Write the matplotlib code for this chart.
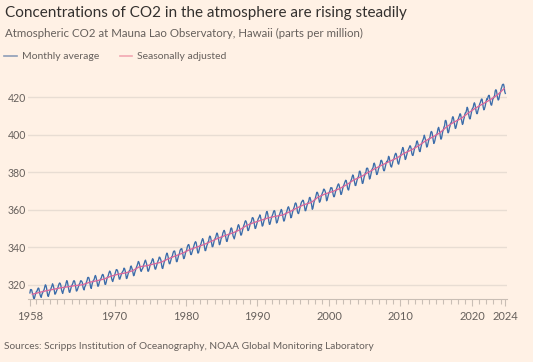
import numpy as np
import matplotlib
matplotlib.use("Agg")
import matplotlib.pyplot as plt
from matplotlib.ticker import FixedLocator
from matplotlib.lines import Line2D

# ---------------- data (ppm) ----------------
title = "Concentrations of CO2 in the atmosphere are rising steadily"
subtitle = "Atmospheric CO2 at Mauna Lao Observatory, Hawaii (parts per million)"
source = "Sources: Scripps Institution of Oceanography, NOAA Global Monitoring Laboratory"
series_names = ["Monthly average", "Seasonally adjusted"]

start_year = 1958
start_month = 3

co2_1950s = [
    315.70, 317.45, 317.51, 317.24, 315.86, 314.93, 313.20, 312.66, 313.33, 314.67,
    315.58, 316.49, 316.65, 317.72, 318.29, 318.15, 316.54, 314.80, 313.84, 313.33, 314.81, 315.58,
]
co2_1960s = [
    316.43, 316.98, 317.58, 319.03, 320.04, 319.59, 318.18, 315.90, 314.17, 313.83, 315.00, 316.19,
    316.89, 317.70, 318.54, 319.48, 320.58, 319.77, 318.57, 316.79, 314.99, 315.31, 316.10, 317.01,
    317.94, 318.55, 319.68, 320.57, 321.02, 320.62, 319.61, 317.40, 316.25, 315.42, 316.69, 317.70,
    318.74, 319.07, 319.86, 321.38, 322.25, 321.48, 319.74, 317.77, 316.21, 315.99, 317.07, 318.35,
    319.57, 320.01, 320.74, 321.84, 322.26, 321.89, 320.44, 318.69, 316.70, 316.87, 317.68, 318.71,
    319.44, 320.44, 320.89, 322.14, 322.17, 321.87, 321.21, 318.87, 317.81, 317.30, 318.87, 319.42,
    320.62, 321.59, 322.39, 323.87, 324.01, 323.75, 322.39, 320.37, 318.64, 318.10, 319.79, 321.08,
    322.07, 322.50, 323.04, 324.42, 325.00, 324.09, 322.54, 320.92, 319.25, 319.39, 320.73, 321.96,
    322.57, 323.15, 323.89, 325.02, 325.57, 325.36, 324.14, 322.11, 320.33, 320.25, 321.32, 322.89,
    324.00, 324.42, 325.63, 326.66, 327.38, 326.71, 325.88, 323.66, 322.38, 321.78, 322.85, 324.12,
]
co2_1970s = [
    325.06, 325.98, 326.93, 328.13, 328.08, 327.67, 326.34, 324.69, 323.10, 323.06, 324.01, 325.13,
    326.17, 326.68, 327.17, 327.79, 328.93, 328.57, 327.36, 325.43, 323.36, 323.56, 324.80, 326.01,
    326.77, 327.63, 327.75, 329.72, 330.07, 329.09, 328.04, 326.32, 324.84, 325.20, 326.50, 327.55,
    328.55, 329.56, 330.30, 331.50, 332.48, 332.07, 330.87, 329.31, 327.51, 327.18, 328.16, 328.64,
    329.35, 330.71, 331.48, 332.65, 333.18, 332.20, 331.07, 329.15, 327.33, 327.28, 328.31, 329.58,
    330.73, 331.46, 331.94, 333.11, 333.95, 333.42, 331.97, 329.95, 328.50, 328.36, 329.38, 330.62,
    331.56, 332.74, 333.36, 334.74, 334.72, 333.98, 333.08, 330.68, 328.96, 328.72, 330.16, 331.62,
    332.68, 333.17, 334.96, 336.14, 336.93, 336.17, 334.88, 332.56, 331.29, 331.27, 332.41, 333.60,
    334.95, 335.25, 336.66, 337.69, 338.03, 338.01, 336.41, 334.41, 332.37, 332.41, 333.75, 334.90,
    336.14, 336.69, 338.27, 338.95, 339.21, 339.26, 337.54, 335.75, 333.98, 334.19, 335.31, 336.81,
]
co2_1980s = [
    337.90, 338.34, 340.01, 340.93, 341.48, 341.33, 339.40, 337.70, 336.19, 336.15, 337.27, 338.32,
    339.29, 340.55, 341.61, 342.53, 343.03, 342.54, 340.78, 338.44, 336.95, 337.08, 338.58, 339.88,
    340.96, 341.73, 342.81, 343.97, 344.63, 343.79, 342.32, 340.09, 338.28, 338.29, 339.60, 340.90,
    341.68, 342.90, 343.33, 345.25, 346.03, 345.63, 344.19, 342.27, 340.35, 340.38, 341.59, 343.05,
    344.10, 344.79, 345.52, 346.84, 347.63, 346.98, 345.53, 343.55, 341.40, 341.67, 343.10, 344.70,
    345.21, 346.16, 347.74, 348.34, 349.06, 348.38, 346.72, 345.02, 343.27, 343.13, 344.49, 345.88,
    346.56, 347.28, 348.01, 349.77, 350.38, 349.93, 348.16, 346.08, 345.22, 344.51, 345.93, 347.22,
    348.52, 348.73, 349.73, 351.31, 352.09, 351.53, 350.11, 348.08, 346.52, 346.59, 347.96, 349.16,
    350.39, 351.64, 352.40, 353.69, 354.21, 353.72, 352.69, 350.40, 348.92, 349.13, 350.20, 351.41,
    352.91, 353.27, 353.96, 355.64, 355.86, 355.37, 353.99, 351.81, 350.05, 350.25, 351.49, 352.85,
]
co2_1990s = [
    353.80, 355.04, 355.73, 356.32, 357.32, 356.34, 354.84, 353.01, 351.31, 351.62, 353.07, 354.33,
    354.84, 355.73, 357.23, 358.66, 359.13, 358.13, 356.19, 353.85, 352.25, 352.35, 353.81, 355.12,
    356.25, 357.11, 357.86, 359.09, 359.59, 359.33, 357.01, 354.94, 352.96, 353.32, 354.32, 355.57,
    357.00, 357.31, 358.47, 359.27, 360.19, 359.52, 357.33, 355.64, 354.03, 354.12, 355.41, 356.91,
    358.24, 358.92, 359.99, 361.23, 361.65, 360.81, 359.38, 357.46, 355.73, 356.07, 357.53, 358.98,
    359.92, 360.86, 361.83, 363.30, 363.69, 363.19, 361.64, 359.12, 358.17, 357.99, 359.45, 360.68,
    362.07, 363.24, 364.17, 364.57, 365.13, 364.92, 363.55, 361.38, 359.54, 359.58, 360.89, 362.24,
    363.09, 364.03, 364.51, 366.35, 366.64, 365.59, 364.31, 362.25, 360.29, 360.82, 362.49, 364.38,
    365.26, 365.98, 367.24, 368.66, 369.42, 368.99, 367.82, 365.95, 364.02, 364.40, 365.52, 367.13,
    368.18, 369.07, 369.68, 370.99, 370.96, 370.30, 369.45, 366.90, 364.81, 365.37, 366.72, 368.10,
]
co2_2000s = [
    369.29, 369.54, 370.60, 371.82, 371.58, 371.70, 369.86, 368.13, 367.00, 367.03, 368.37, 369.67,
    370.59, 371.51, 372.43, 373.37, 373.85, 373.22, 371.50, 369.61, 368.18, 368.45, 369.76, 371.24,
    372.53, 373.20, 374.12, 375.02, 375.76, 375.52, 374.01, 371.85, 370.75, 370.55, 372.25, 373.79,
    374.88, 375.64, 376.45, 377.73, 378.60, 377.93, 376.28, 374.41, 372.98, 373.00, 374.35, 375.69,
    376.79, 377.36, 378.39, 380.50, 380.62, 379.55, 377.76, 375.83, 374.05, 374.22, 375.84, 377.44,
    378.34, 379.61, 380.08, 382.05, 382.24, 382.08, 380.67, 378.67, 376.42, 376.80, 378.31, 379.96,
    381.37, 382.02, 382.56, 384.37, 384.92, 384.03, 382.28, 380.48, 378.81, 379.06, 380.14, 381.66,
    382.58, 383.71, 384.34, 386.23, 386.41, 385.87, 384.45, 381.84, 380.86, 380.86, 382.36, 383.61,
    385.07, 385.84, 385.83, 386.77, 388.51, 388.05, 386.25, 384.08, 383.09, 382.78, 384.01, 385.11,
    386.65, 387.12, 388.52, 389.57, 390.16, 389.62, 388.07, 386.08, 384.65, 384.33, 386.05, 387.49,
]
co2_2010s = [
    388.55, 390.07, 391.01, 392.38, 393.22, 392.24, 390.33, 388.52, 386.84, 387.24, 388.67, 389.79,
    391.33, 391.86, 392.60, 393.25, 394.19, 393.73, 392.51, 390.13, 389.08, 389.00, 390.28, 391.86,
    393.12, 393.86, 394.40, 396.18, 396.74, 395.71, 394.36, 392.39, 391.11, 391.05, 392.98, 394.34,
    395.55, 396.80, 397.43, 398.41, 399.78, 398.61, 397.32, 395.20, 393.45, 393.70, 395.16, 396.84,
    397.85, 398.01, 399.77, 401.38, 401.78, 401.25, 399.10, 397.03, 395.38, 396.03, 397.28, 398.91,
    399.98, 400.28, 401.54, 403.28, 403.96, 402.80, 401.31, 398.93, 397.63, 398.29, 400.16, 401.85,
    402.52, 404.04, 404.83, 407.42, 407.70, 406.81, 404.39, 402.25, 401.03, 401.57, 403.53, 404.42,
    406.13, 406.42, 407.18, 409.00, 409.65, 408.84, 407.07, 405.07, 403.38, 403.64, 405.14, 406.81,
    407.96, 408.32, 409.41, 410.24, 411.24, 410.79, 408.71, 406.99, 405.51, 406.00, 408.02, 409.07,
    410.83, 411.75, 411.97, 413.32, 414.66, 413.92, 411.77, 409.95, 408.54, 408.53, 410.27, 411.76,
]
co2_2020s = [
    413.40, 414.11, 414.51, 416.21, 417.07, 416.39, 414.38, 412.55, 411.29, 411.28, 412.89, 413.89,
    415.15, 416.47, 417.16, 418.24, 419.05, 418.97, 416.70, 414.47, 413.30, 413.93, 415.01, 416.71,
    418.19, 419.28, 418.81, 420.23, 420.99, 420.99, 418.90, 417.19, 415.95, 415.78, 417.51, 418.95,
    419.47, 420.31, 420.99, 423.36, 424.00, 423.68, 421.83, 419.68, 418.51, 418.82, 420.46, 421.86,
    422.80, 424.55, 425.38, 426.57, 426.90, 426.91, 425.55, 422.99, 422.03,
]

# seasonally adjusted (annual, plotted mid-year)
sa_years = list(range(1958, 2025))
sa_values = [
    315.0, 315.98, 316.91, 317.64, 318.45, 318.99, 319.62, 320.04, 321.37, 322.18,
    323.05, 324.62, 325.68, 326.32, 327.46, 329.68, 330.19, 331.13, 332.03, 333.84,
    335.41, 336.84, 338.76, 340.12, 341.48, 343.15, 344.87, 346.35, 347.61, 349.31,
    351.69, 353.20, 354.45, 355.70, 356.54, 357.21, 358.96, 360.97, 362.74, 363.88,
    366.84, 368.54, 369.71, 371.32, 373.45, 375.98, 377.70, 379.98, 382.09, 384.02,
    385.83, 387.64, 390.10, 391.85, 394.06, 396.74, 398.81, 401.01, 404.41, 406.76,
    408.72, 411.66, 414.24, 416.45, 418.56, 421.08, 424.60,
]

y_ticks = [320, 340, 360, 380, 400, 420]
x_tick_labels = ["1958", "1970", "1980", "1990", "2000", "2010", "2020", "2024"]
x_inner_ticks = [1970, 1980, 1990, 2000, 2010, 2020]

# ---------------- style ----------------
BG = "#FFF1E5"
DARK = "#33302E"
GREY = "#66605C"
GRID = "#E8DDD3"
BLUE = "#3D6DAA"
PINK = "#D9679C"
TICK = "#C9BEB5"
FONT = "Lato"

W, H = 533, 362
fig = plt.figure(figsize=(W / 100, H / 100), dpi=100, facecolor=BG)

L, R, T, B = 28, 507, 78.5, 299.3
ax = fig.add_axes([L / W, 1 - B / H, (R - L) / W, (B - T) / H], facecolor=BG)

monthly = np.array(co2_1950s + co2_1960s + co2_1970s + co2_1980s + co2_1990s + co2_2000s + co2_2010s + co2_2020s)
months_x = start_year + (start_month - 1) / 12 + np.arange(len(monthly)) / 12
sa_x = np.array(sa_years) + 0.5

ax.plot(months_x, monthly, color=BLUE, lw=0.95, zorder=3, solid_joinstyle="round")
ax.plot(sa_x, sa_values, color=PINK, lw=0.95, zorder=4)

ax.set_xlim(1957.90, 2024.90)
ax.set_ylim(312.3, 430)

ax.set_yticks(y_ticks)
ax.set_yticklabels([str(v) for v in y_ticks])
ax.yaxis.grid(True, color=GRID, lw=1.0)
ax.set_axisbelow(True)
ax.tick_params(axis="y", length=0, pad=1.5, labelsize=7.6, labelcolor=GREY)
for lab in ax.get_yticklabels():
    lab.set_fontfamily(FONT)

# first and last labels sit at the ends of the data
major_pos = [months_x[0]] + x_inner_ticks + [months_x[-1]]
ax.xaxis.set_major_locator(FixedLocator(major_pos))
ax.set_xticklabels(x_tick_labels)
ax.xaxis.set_minor_locator(FixedLocator(list(range(1959, 2025))))
ax.tick_params(axis="x", which="major", length=5.2, width=0.8, color=TICK, pad=3.5,
               labelsize=8.0, labelcolor=GREY)
ax.tick_params(axis="x", which="minor", length=3.8, width=0.8, color=TICK)
for lab in ax.get_xticklabels():
    lab.set_fontfamily(FONT)

for s in ["top", "right", "left"]:
    ax.spines[s].set_visible(False)
ax.spines["bottom"].set_color(TICK)
ax.spines["bottom"].set_linewidth(0.8)


def px(x, y):
    return x / W, 1 - y / H


fig.text(*px(5, 17), title, fontsize=11.0, color=DARK, family=FONT, va="baseline", ha="left")
fig.text(*px(5, 37), subtitle, fontsize=8.25, color=GREY, family=FONT, va="baseline", ha="left")
fig.text(*px(4, 349), source, fontsize=7.3, color=GREY, family=FONT, va="baseline", ha="left")

# legend
fig.add_artist(Line2D([4 / W, 17 / W], [1 - 56 / H, 1 - 56 / H], color="#8D9EB8", lw=1.2))
fig.text(*px(22, 59.3), series_names[0], fontsize=7.5, color=GREY, family=FONT, va="baseline", ha="left")
fig.add_artist(Line2D([120 / W, 132 / W], [1 - 56 / H, 1 - 56 / H], color="#F2A7B2", lw=1.2))
fig.text(*px(137, 59.3), series_names[1], fontsize=7.5, color=GREY, family=FONT, va="baseline", ha="left")

fig.savefig("out.png", dpi=100, facecolor=BG)
